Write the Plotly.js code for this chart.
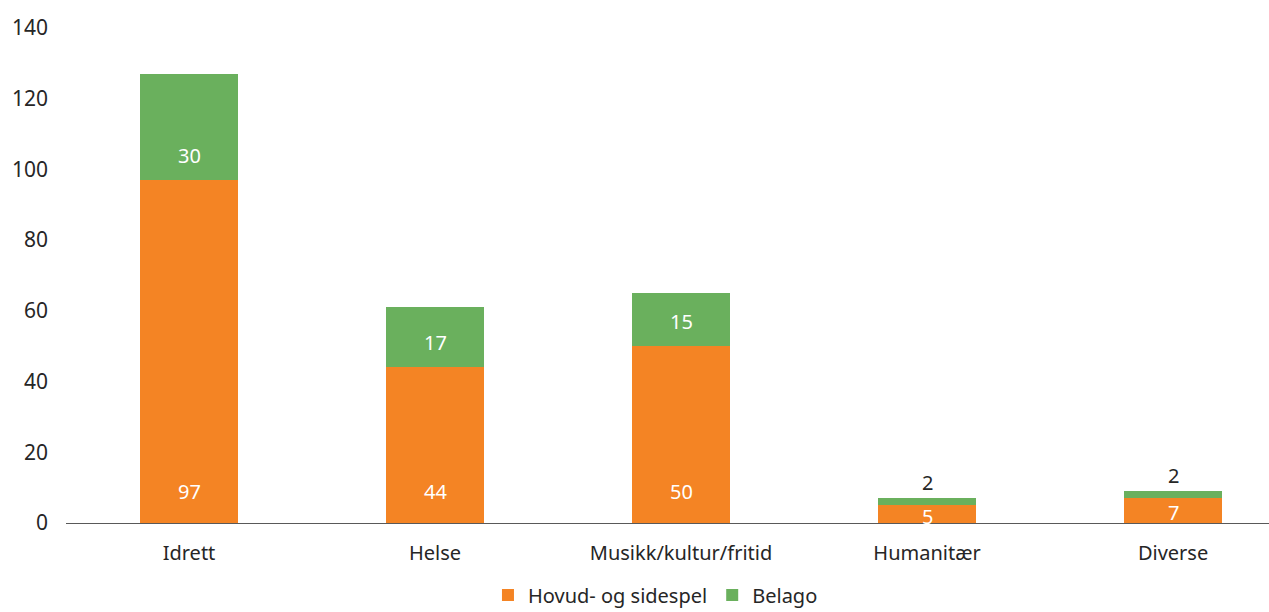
<!DOCTYPE html>
<html><head><meta charset="utf-8">
<script src="https://cdn.plot.ly/plotly-3.0.1.min.js"></script>
<style>html,body{margin:0;padding:0;background:#fff}#c{width:1269px;height:612px}</style>
</head><body><div id="c"></div>
<script>
const categories = ["Idrett", "Helse", "Musikk/kultur/fritid", "Humanitær", "Diverse"];
const hovud = [97, 44, 50, 5, 7];
const belago = [30, 17, 15, 2, 2];
const yTicks = [0, 20, 40, 60, 80, 100, 120, 140];

const fontFam = "Noto Sans, DejaVu Sans, sans-serif";
const traces = [
  {type:'bar', name:'Hovud- og sidespel', x:categories, y:hovud, marker:{color:'#F48424'},
   width:0.4, hoverinfo:'none'},
  {type:'bar', name:'Belago', x:categories, y:belago, marker:{color:'#6AB05D'},
   width:0.4, hoverinfo:'none'}
];

// value labels: positioned at data coordinates (segment base), shifted a fixed distance
const annotations = [];
categories.forEach((c, i) => {
  const bigO = hovud[i] > 20;
  annotations.push({x:c, y: bigO ? 0 : hovud[i] / 2, yshift: bigO ? 32 : -2, yref:'y', xref:'x',
    text:String(hovud[i]), showarrow:false, font:{color:'#ffffff', size:20, family:fontFam}});
  const bigG = belago[i] > 5;
  annotations.push({x:c, y: bigG ? hovud[i] : hovud[i] + belago[i], yshift: bigG ? 25 : 16,
    yref:'y', xref:'x', text:String(belago[i]), showarrow:false,
    font:{color: bigG ? '#ffffff' : '#262626', size:20, family:fontFam}});
});

const layout = {
  barmode:'stack', width:1269, height:612,
  margin:{l:66, r:0, t:28, b:89, autoexpand:false},
  paper_bgcolor:'#fff', plot_bgcolor:'#fff',
  font:{family:fontFam, size:20, color:'#262626'},
  xaxis:{range:[-0.5, 4.39], showline:true, linecolor:'#595959', linewidth:1.3, ticks:'', showgrid:false,
    tickfont:{size:20, color:'#262626'}, ticklabelstandoff:12, automargin:false, fixedrange:true},
  yaxis:{range:[0,140], tickvals:yTicks, showgrid:false, zeroline:false, showline:false, ticks:'',
    tickfont:{size:21, color:'#262626'}, ticklabelstandoff:17, automargin:false},
  showlegend:true,
  legend:{orientation:'h', x:0.49, xanchor:'center', y:-0.106, yanchor:'top',
    font:{size:20, color:'#262626'}, itemwidth:30, traceorder:'normal'},
  annotations: annotations
};
Plotly.newPlot('c', traces, layout, {staticPlot:true});
</script></body></html>
